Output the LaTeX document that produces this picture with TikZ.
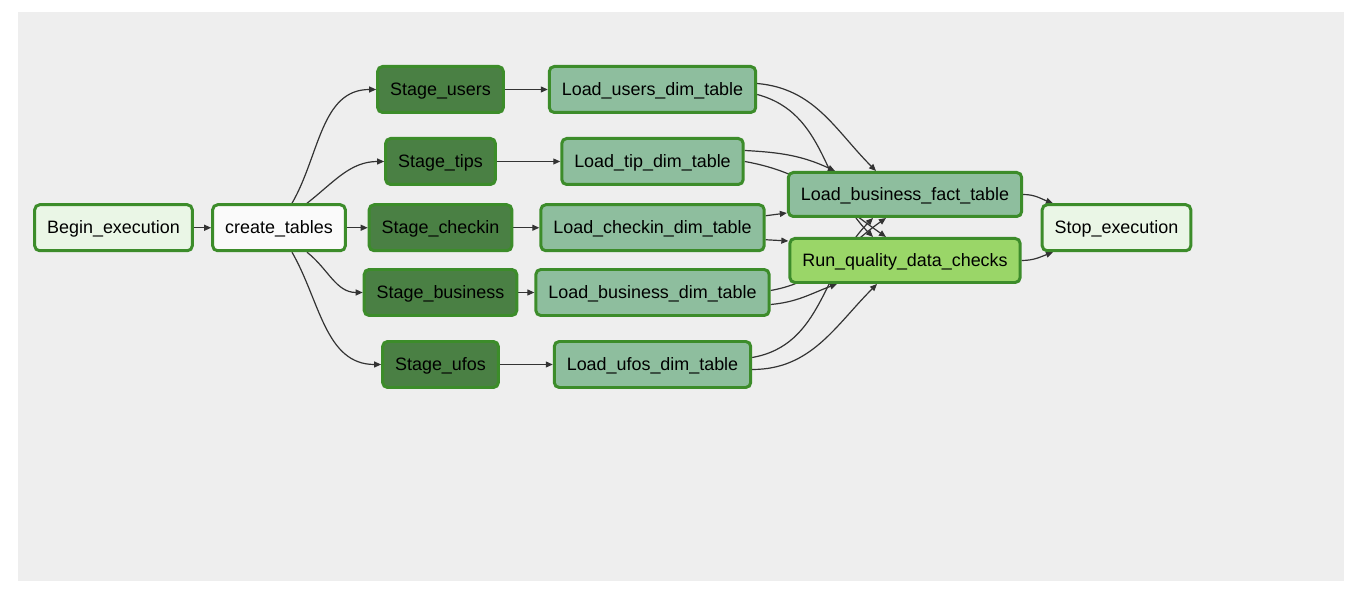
\documentclass[tikz,border=0pt]{standalone}
\usepackage{fontspec}
\setmainfont{Liberation Sans}
\usepackage{tikz}
\usetikzlibrary{
    arrows.meta,
    backgrounds
}
\usepackage{xcolor}
\definecolor{bggray}{RGB}{238,238,238}
\definecolor{taskborder}{RGB}{60,140,42}
\definecolor{stagegreen}{RGB}{74,128,68}
\definecolor{dimgreen}{RGB}{142,190,158}
\definecolor{checkgreen}{RGB}{154,214,104}
\definecolor{dummyfill}{RGB}{234,246,230}
\definecolor{createfill}{RGB}{250,250,250}
\definecolor{edgegray}{RGB}{51,51,51}

\begin{document}
\begin{tikzpicture}[
    x=1cm, y=1cm,
    task/.style={
        rectangle, rounded corners=2.8pt, draw=taskborder, line width=1.7pt,
        minimum height=0.92cm, inner xsep=0.25cm,
        text height=7.3pt, text depth=0.6pt,
        font=\fontsize{10.2}{12}\selectfont
    },
    dummy/.style={task, fill=dummyfill},
    stage/.style={task, fill=stagegreen},
    dim/.style={task, fill=dimgreen},
    edge/.style={draw=edgegray, line width=0.68pt, -{Triangle[length=4pt,width=3.4pt]}}
]
\useasboundingbox (0,0) rectangle (27.28,12.04);
\begin{scope}[on background layer]
\fill[bggray] (0.36,0.42) rectangle (26.88,11.80);
\end{scope}

% Start and table creation
\node[dummy] (begin) at (2.27, 7.485) {Begin\_execution};
\node[task, fill=createfill] (create) at (5.58, 7.485) {create\_tables};

% Staging tasks
\node[stage] (stusers) at (8.81, 10.25) {Stage\_users};
\node[stage] (sttips) at (8.81, 8.81) {Stage\_tips};
\node[stage] (stcheckin) at (8.81, 7.485) {Stage\_checkin};
\node[stage] (stbusiness) at (8.81, 6.19) {Stage\_business};
\node[stage] (stufos) at (8.81, 4.75) {Stage\_ufos};

% Dimension tables
\node[dim] (ldusers) at (13.05, 10.25) {Load\_users\_dim\_table};
\node[dim] (ldtips) at (13.05, 8.81) {Load\_tip\_dim\_table};
\node[dim] (ldcheckin) at (13.05, 7.485) {Load\_checkin\_dim\_table};
\node[dim] (ldbusiness) at (13.05, 6.19) {Load\_business\_dim\_table};
\node[dim] (ldufos) at (13.05, 4.75) {Load\_ufos\_dim\_table};

% Fact table, checks and end
\node[dim, minimum height=0.88cm] (fact) at (18.10, 8.15) {Load\_business\_fact\_table};
\node[task, fill=checkgreen, minimum height=0.88cm] (quality) at (18.10, 6.83) {Run\_quality\_data\_checks};
\node[dummy] (stop) at (22.33, 7.485) {Stop\_execution};

% Edges
\begin{scope}[on background layer]
\draw[edge] (begin) -- (create);

\draw[edge] ([xshift=0.26cm]create.north) to[out=60, in=180] (stusers.west);
\draw[edge] ([xshift=0.56cm]create.north) to[out=38, in=180] (sttips.west);
\draw[edge] (create) -- (stcheckin);
\draw[edge] ([xshift=0.56cm]create.south) to[out=-38, in=180] (stbusiness.west);
\draw[edge] ([xshift=0.26cm]create.south) to[out=-60, in=180] (stufos.west);

\draw[edge] (stusers) -- (ldusers);
\draw[edge] (sttips) -- (ldtips);
\draw[edge] (stcheckin) -- (ldcheckin);
\draw[edge] (stbusiness) -- (ldbusiness);
\draw[edge] (stufos) -- (ldufos);

\draw[edge] ([yshift=0.12cm]ldusers.east) to[out=-5, in=135] ([xshift=-0.58cm]fact.north);
\draw[edge] ([yshift=-0.10cm]ldusers.east) to[out=-15, in=135] ([xshift=-0.64cm]quality.north);
\draw[edge] ([yshift=0.22cm]ldtips.east) to[out=-3, in=155] ([xshift=-1.40cm]fact.north);
\draw[edge] (ldtips.east) to[out=-10, in=145] ([xshift=-0.38cm]quality.north);
\draw[edge] ([yshift=0.24cm]ldcheckin.east) -- ([yshift=-0.37cm]fact.west);
\draw[edge] ([yshift=-0.24cm]ldcheckin.east) -- ([yshift=0.39cm]quality.west);
\draw[edge] ([yshift=0.04cm]ldbusiness.east) to[out=10, in=-145] ([xshift=-0.38cm]fact.south);
\draw[edge] ([yshift=-0.24cm]ldbusiness.east) to[out=5, in=-160] ([xshift=-1.36cm]quality.south);
\draw[edge] ([yshift=0.14cm]ldufos.east) to[out=10, in=-135] ([xshift=-0.64cm]fact.south);
\draw[edge] ([yshift=-0.10cm]ldufos.east) to[out=0, in=-135] ([xshift=-0.56cm]quality.south);

\draw[edge] (fact.east) to[out=0, in=160] ([xshift=-1.27cm]stop.north);
\draw[edge] (quality.east) to[out=0, in=-160] ([xshift=-1.27cm]stop.south);
\end{scope}

\end{tikzpicture}
\end{document}
